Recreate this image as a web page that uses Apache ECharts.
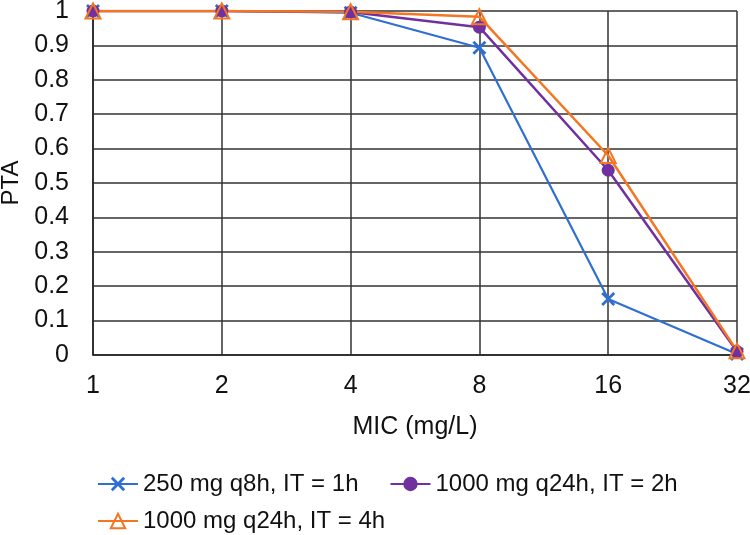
<!DOCTYPE html>
<html>
<head>
<meta charset="utf-8">
<script src="https://cdn.jsdelivr.net/npm/echarts@6/dist/echarts.min.js"></script>
<style>html,body{margin:0;padding:0;background:#fff}#c{width:750px;height:535px}</style>
</head>
<body>
<div id="c"></div>
<script>
const categories = ['1', '2', '4', '8', '16', '32'];
const seriesNames = ['250 mg q8h, IT = 1h', '1000 mg q24h, IT = 2h', '1000 mg q24h, IT = 4h'];
const blueValues = [1, 1, 0.995, 0.893, 0.163, 0.003];
const purpleValues = [1, 1, 0.997, 0.953, 0.537, 0.01];
const orangeValues = [1, 1, 0.998, 0.983, 0.58, 0.012];
const yTicks = [0, 0.1, 0.2, 0.3, 0.4, 0.5, 0.6, 0.7, 0.8, 0.9, 1];

const FONT = '"Liberation Sans", Arial, sans-serif';
const BLUE = '#2f6fd1', PURPLE = '#7030a0', ORANGE = '#f47622';
const XPATH = 'path://M0,1.4L1.4,0L5,3.6L8.6,0L10,1.4L6.4,5L10,8.6L8.6,10L5,6.4L1.4,10L0,8.6L3.6,5Z';
const TXT = '#111';

const chart = echarts.init(document.getElementById('c'), null, {renderer: 'canvas'});
chart.setOption({
  animation: false,
  backgroundColor: '#fff',
  textStyle: {fontFamily: FONT, color: TXT},
  grid: {left: 93, right: 13, top: 11, bottom: 180, containLabel: false, outerBoundsMode: 'none'},
  xAxis: {
    type: 'category', data: categories, boundaryGap: false,
    name: 'MIC (mg/L)', nameLocation: 'middle', nameGap: 60,
    nameTextStyle: {fontSize: 25, color: TXT, fontFamily: FONT},
    axisLine: {lineStyle: {color: '#222', width: 1.5}},
    axisTick: {show: false},
    axisLabel: {fontSize: 25, color: TXT, margin: 19, fontFamily: FONT},
    splitLine: {show: true, lineStyle: {color: '#333', width: 1.5}}
  },
  yAxis: {
    type: 'value', min: 0, max: 1, interval: 0.1,
    name: 'PTA', nameLocation: 'middle', nameGap: 70, nameRotate: 90, nameMoveOverlap: false,
    nameTextStyle: {fontSize: 24, color: TXT, fontFamily: FONT},
    axisLine: {show: true, lineStyle: {color: '#222', width: 1.5}},
    axisTick: {show: false},
    axisLabel: {fontSize: 25, color: TXT, margin: 24, fontFamily: FONT,
      formatter: v => { const t = yTicks.find(x => Math.abs(x - v) < 1e-9); return String(t !== undefined ? t : v); }},
    splitLine: {show: true, lineStyle: {color: '#333', width: 1.5}}
  },
  legend: [
    {data: [seriesNames[0], seriesNames[1]], left: 92, top: 467, itemWidth: 40, itemHeight: 18, itemGap: 31,
     textStyle: {fontSize: 24, color: TXT, fontFamily: FONT}},
    {data: [seriesNames[2]], left: 92, top: 504, itemWidth: 40, itemHeight: 18,
     textStyle: {fontSize: 24, color: TXT, fontFamily: FONT}}
  ],
  series: [
    {name: seriesNames[0], type: 'line', data: blueValues, symbol: XPATH, symbolSize: 14,
     lineStyle: {color: BLUE, width: 2.2}, itemStyle: {color: BLUE}},
    {name: seriesNames[1], type: 'line', data: purpleValues, symbol: 'circle', symbolSize: 13,
     lineStyle: {color: PURPLE, width: 2.5}, itemStyle: {color: PURPLE}},
    {name: seriesNames[2], type: 'line', data: orangeValues, symbol: 'triangle', symbolSize: 15,
     lineStyle: {color: ORANGE, width: 2.5}, itemStyle: {color: 'rgba(255,255,255,0)', borderColor: ORANGE, borderWidth: 2}}
  ]
});
</script>
</body>
</html>
